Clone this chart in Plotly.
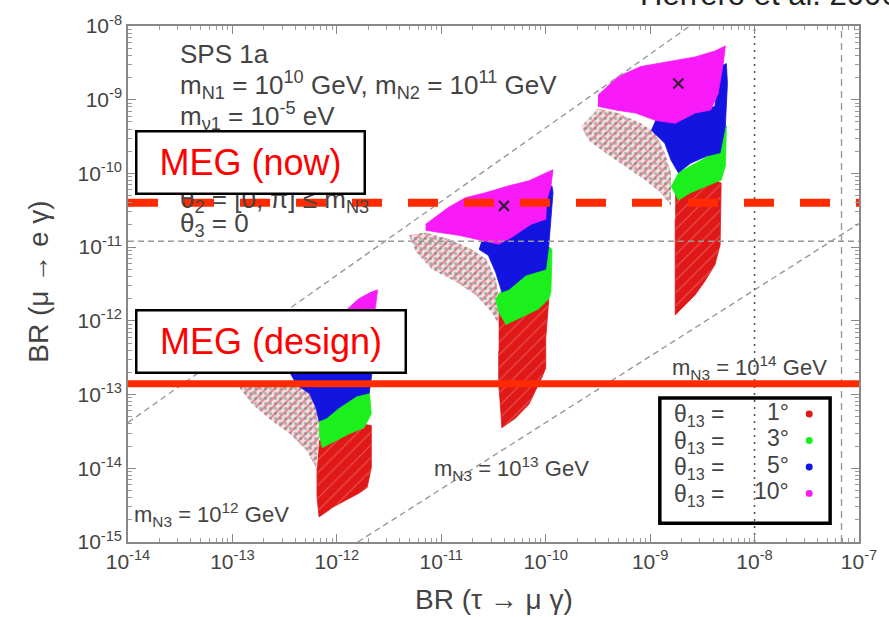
import plotly.graph_objects as go

# ---------------- data (log10 units) ----------------
x_tick_exp = [-14, -13, -12, -11, -10, -9, -8, -7]
y_tick_exp = [-15, -14, -13, -12, -11, -10, -9, -8]

meg_now = 4.0e-11        # MEG (now)
meg_design = 1.4e-13     # MEG (design)
mega_bound = 1.2e-11     # gray dashed horizontal
tau_future = 1.0e-8      # dotted vertical
tau_bound = 6.8e-8       # dashed vertical

ratio_a_lx = [-14.0, -8.62]
ratio_a_ly = [-13.38, -8.0]
ratio_b_lx = [-11.80, -7.0]
ratio_b_ly = [-15.0, -10.68]

# cluster m_N3 = 10^13 GeV
c13_band_lx = [-11.31, -11.24, -11.09, -10.86, -10.67, -10.52, -10.45, -10.45, -10.48, -10.57, -10.71, -10.93, -11.15]
c13_band_ly = [-10.84, -11.07, -11.30, -11.47, -11.65, -11.88, -12.05, -11.65, -11.43, -11.16, -11.03, -10.89, -10.80]
c13_red_lx = [-10.45, -10.00, -9.97, -10.00, -10.00, -10.04, -10.10, -10.16, -10.29, -10.42, -10.43, -10.45, -10.45]
c13_red_ly = [-11.84, -11.65, -11.70, -12.24, -12.64, -12.78, -12.95, -13.13, -13.32, -13.45, -13.22, -12.86, -12.41]
c13_green_lx = [-10.42, -10.19, -10.00, -9.99, -9.94, -9.95, -9.97, -10.07, -10.19, -10.38, -10.45, -10.48]
c13_green_ly = [-11.57, -11.38, -11.24, -10.97, -11.03, -11.61, -11.70, -11.84, -11.92, -12.05, -11.88, -11.70]
c13_blue_lx = [-10.61, -10.33, -10.14, -10.00, -9.99, -9.94, -9.93, -9.97, -10.00, -10.19, -10.35, -10.42, -10.48, -10.55, -10.64]
c13_blue_ly = [-10.89, -10.84, -10.69, -10.60, -10.22, -10.17, -10.26, -10.97, -11.30, -11.38, -11.57, -11.61, -11.34, -11.11, -11.03]
c13_mag_lx = [-11.15, -10.93, -10.77, -10.57, -10.36, -10.16, -10.04, -9.93, -9.95, -9.99, -10.00, -10.14, -10.33, -10.45, -10.61, -10.83, -11.02, -11.15]
c13_mag_ly = [-10.69, -10.46, -10.33, -10.26, -10.17, -10.10, -10.02, -9.95, -10.17, -10.36, -10.62, -10.69, -10.87, -10.96, -10.91, -10.84, -10.80, -10.77]

# cluster m_N3 = 10^14 GeV
c14_band_lx = [-9.66, -9.59, -9.43, -9.24, -9.05, -8.90, -8.80, -8.80, -8.86, -8.95, -9.09, -9.31, -9.50]
c14_band_ly = [-9.36, -9.55, -9.72, -9.90, -10.09, -10.26, -10.44, -9.99, -9.72, -9.45, -9.32, -9.18, -9.12]
c14_red_lx = [-8.76, -8.38, -8.32, -8.33, -8.33, -8.38, -8.48, -8.57, -8.70, -8.76, -8.76, -8.76, -8.76]
c14_red_ly = [-10.26, -10.09, -10.13, -10.62, -10.97, -11.24, -11.47, -11.65, -11.84, -11.92, -11.51, -11.03, -10.62]
c14_green_lx = [-8.73, -8.51, -8.35, -8.32, -8.27, -8.28, -8.32, -8.45, -8.61, -8.73, -8.80]
c14_green_ly = [-9.99, -9.82, -9.68, -9.36, -9.36, -9.90, -10.09, -10.17, -10.26, -10.36, -10.17]
c14_blue_lx = [-8.95, -8.73, -8.57, -8.38, -8.33, -8.27, -8.26, -8.28, -8.33, -8.45, -8.61, -8.73, -8.80, -8.86, -8.99]
c14_blue_ly = [-9.28, -9.29, -9.18, -9.09, -8.55, -8.51, -8.78, -9.36, -9.72, -9.76, -9.86, -9.99, -9.82, -9.59, -9.41]
c14_mag_lx = [-9.50, -9.31, -9.09, -8.83, -8.57, -8.38, -8.28, -8.30, -8.35, -8.42, -8.57, -8.76, -8.95, -9.14, -9.33, -9.50]
c14_mag_ly = [-8.94, -8.69, -8.55, -8.48, -8.42, -8.34, -8.27, -8.51, -8.92, -9.14, -9.18, -9.32, -9.28, -9.18, -9.14, -9.09]

# cluster m_N3 = 10^12 GeV
c12_band_lx = [-12.93, -12.81, -12.62, -12.45, -12.29, -12.20, -12.17, -12.17, -12.20, -12.26, -12.39, -12.74, -12.93]
c12_band_ly = [-12.91, -13.13, -13.36, -13.53, -13.76, -13.99, -13.59, -13.36, -13.18, -12.99, -12.82, -12.82, -12.86]
c12_red_lx = [-12.17, -11.76, -11.67, -11.67, -11.71, -11.79, -11.91, -12.04, -12.17, -12.19, -12.19]
c12_red_ly = [-13.63, -13.40, -13.42, -13.99, -14.26, -14.34, -14.43, -14.53, -14.66, -14.39, -13.99]
c12_green_lx = [-12.17, -11.98, -11.83, -11.69, -11.67, -11.74, -11.88, -12.01, -12.14, -12.17]
c12_green_ly = [-13.36, -13.18, -13.02, -12.95, -13.26, -13.45, -13.53, -13.63, -13.72, -13.53]
c12_blue_lx = [-12.45, -11.98, -11.67, -11.61, -11.69, -11.81, -11.98, -12.10, -12.17, -12.20, -12.26, -12.39]
c12_blue_ly = [-12.71, -12.44, -12.17, -12.15, -12.98, -13.02, -13.18, -13.32, -13.36, -13.18, -12.99, -12.86]
c12_mag_lx = [-11.93, -11.79, -11.67, -11.61, -11.63, -11.69, -11.98, -12.17]
c12_mag_ly = [-11.88, -11.70, -11.61, -11.58, -11.81, -12.15, -12.35, -12.28]

# best-fit markers (x)
star_lx = [-10.40, -8.73]
star_ly = [-10.44, -8.78]

legend_labels = ["1°", "3°", "5°", "10°"]

# ---------------- style ----------------
RED = "#e01818"
GREEN = "#1cf01c"
BLUE = "#1414e0"
MAG = "#f81af8"
MEGRED = "#ff2a00"
TXT = "#444444"
FONT = "Liberation Sans, Arial, sans-serif"


def P(v):
    return [10 ** e for e in v]


fig = go.Figure()

clusters = [
    (c12_band_lx, c12_band_ly, c12_red_lx, c12_red_ly, c12_green_lx, c12_green_ly,
     c12_blue_lx, c12_blue_ly, c12_mag_lx, c12_mag_ly),
    (c13_band_lx, c13_band_ly, c13_red_lx, c13_red_ly, c13_green_lx, c13_green_ly,
     c13_blue_lx, c13_blue_ly, c13_mag_lx, c13_mag_ly),
    (c14_band_lx, c14_band_ly, c14_red_lx, c14_red_ly, c14_green_lx, c14_green_ly,
     c14_blue_lx, c14_blue_ly, c14_mag_lx, c14_mag_ly),
]
for cl in clusters:
    bx, by = P(cl[0]), P(cl[1])
    # sparse arcs of mixed-colour points
    fig.add_trace(go.Scatter(x=bx, y=by, mode="lines", fill="toself",
                             fillcolor="rgba(0,0,0,0)", line=dict(width=0),
                             fillpattern=dict(shape="/", fgcolor="rgba(215,30,50,0.9)",
                                              bgcolor="rgba(235,180,195,0.4)", size=6, solidity=0.4),
                             hoverinfo="skip"))
    fig.add_trace(go.Scatter(x=bx, y=by, mode="lines", fill="toself",
                             fillcolor="rgba(0,0,0,0)", line=dict(width=0),
                             fillpattern=dict(shape=".", fgcolor="rgba(50,140,110,0.8)",
                                              bgcolor="rgba(0,0,0,0)", size=5, solidity=0.35),
                             hoverinfo="skip"))
    # dense core
    fig.add_trace(go.Scatter(x=P(cl[2]), y=P(cl[3]), mode="lines", fill="toself",
                             fillcolor=RED, line=dict(width=0.8, color=RED),
                             fillpattern=dict(shape="/", fgcolor="rgba(255,255,255,0.55)", bgcolor=RED,
                                              size=9, solidity=0.12),
                             hoverinfo="skip"))
    for k, col in [(2, GREEN), (3, BLUE), (4, MAG)]:
        fig.add_trace(go.Scatter(x=P(cl[2 * k]), y=P(cl[2 * k + 1]), mode="lines",
                                 fill="toself", fillcolor=col, line=dict(width=0.8, color=col),
                                 hoverinfo="skip"))

# gray reference lines
gray_dash = dict(color="#999999", width=1.4, dash="6px,4px")
fig.add_trace(go.Scatter(x=P(ratio_a_lx), y=P(ratio_a_ly), mode="lines", line=gray_dash))
fig.add_trace(go.Scatter(x=P(ratio_b_lx), y=P(ratio_b_ly), mode="lines", line=gray_dash))
fig.add_trace(go.Scatter(x=[10 ** x_tick_exp[0], 10 ** x_tick_exp[-1]], y=[mega_bound, mega_bound],
                         mode="lines", line=gray_dash))
fig.add_trace(go.Scatter(x=[tau_future, tau_future], y=[10 ** y_tick_exp[0], 10 ** y_tick_exp[-1]],
                         mode="lines", line=dict(color="#555555", width=1.6, dash="2px,5px")))
fig.add_trace(go.Scatter(x=[tau_bound, tau_bound], y=[10 ** y_tick_exp[0], 10 ** y_tick_exp[-1]],
                         mode="lines", line=dict(color="#999999", width=1.4, dash="7px,5px")))

# best-fit markers
fig.add_trace(go.Scatter(x=P(star_lx), y=P(star_ly), mode="markers",
                         marker=dict(symbol="x-thin", size=10, line=dict(width=2.2, color="#3a1a40"))))

# MEG lines
fig.add_trace(go.Scatter(x=[10 ** x_tick_exp[0], 10 ** x_tick_exp[-1]], y=[meg_now, meg_now],
                         mode="lines", line=dict(color=MEGRED, width=8, dash="30px,26px")))
fig.add_trace(go.Scatter(x=[10 ** x_tick_exp[0], 10 ** x_tick_exp[-1]], y=[meg_design, meg_design],
                         mode="lines", line=dict(color=MEGRED, width=7)))

ticks_x = [f"10<sup>{e}</sup>" for e in x_tick_exp]
ticks_y = [f"10<sup>{e}</sup>" for e in y_tick_exp]

axis_common = dict(type="log", showgrid=False, zeroline=False, ticks="inside", ticklen=8,
                   tickcolor="#888888", tickwidth=1, linecolor="#888888", linewidth=1.5,
                   mirror="allticks", tickfont=dict(size=21, color=TXT, family=FONT),
                   minor=dict(ticks="inside", ticklen=4, tickcolor="#999999", dtick="D1", showgrid=False))

fig.update_layout(
    width=889, height=617,
    margin=dict(l=128, r=27, t=22, b=75),
    paper_bgcolor="white", plot_bgcolor="white",
    showlegend=False,
    xaxis=dict(range=[x_tick_exp[0], x_tick_exp[-1]], tickmode="array",
               tickvals=[10 ** e for e in x_tick_exp], ticktext=ticks_x, **axis_common),
    yaxis=dict(range=[y_tick_exp[0], y_tick_exp[-1]], tickmode="array",
               tickvals=[10 ** e for e in y_tick_exp], ticktext=ticks_y, **axis_common),
)

ann = []
# axis titles
ann.append(dict(text="BR (τ → μ γ)", xref="paper", yref="paper", x=0.5, y=-0.1115,
                xanchor="center", yanchor="middle", showarrow=False,
                font=dict(size=28, color=TXT, family=FONT)))
ann.append(dict(text="BR (μ → e γ)", xref="paper", yref="paper", x=-0.122, y=0.504,
                xanchor="center", yanchor="middle", showarrow=False, textangle=-90,
                font=dict(size=28, color=TXT, family=FONT)))
# header text (cut at top)
ann.append(dict(text="Herrero et al. 2006", xref="paper", yref="paper", x=0.698, y=1.024,
                xanchor="left", yanchor="bottom", showarrow=False,
                font=dict(size=31, color="#222222", family=FONT)))

# parameter block
info = [
    ("SPS 1a", 50),
    ("m<sub>N1</sub> = 10<sup>10</sup> GeV, m<sub>N2</sub> = 10<sup>11</sup> GeV", 81),
    ("m<sub>ν1</sub> = 10<sup>-5</sup> eV", 113),
    ("0 ≤ |θ<sub>1</sub>| ≤ π", 142),
    ("0 ≤ arg θ<sub>1</sub> ≤ π", 170),
    ("θ<sub>2</sub> = [0, π] ≤ m<sub>N3</sub>", 198),
    ("θ<sub>3</sub> = 0", 222),
]
for t, py in info:
    ann.append(dict(text=t, xref="paper", yref="paper", x=(178 - 128) / 734, y=(542 - py) / 520,
                    xanchor="left", yanchor="middle", showarrow=False,
                    font=dict(size=26, color=TXT, family=FONT)))

# mass labels
mass = [("m<sub>N3</sub> = 10<sup>14</sup> GeV", 672, 366),
        ("m<sub>N3</sub> = 10<sup>13</sup> GeV", 433, 468),
        ("m<sub>N3</sub> = 10<sup>12</sup> GeV", 132, 514)]
for t, px, py in mass:
    ann.append(dict(text=t, xref="paper", yref="paper", x=(px - 128) / 734, y=(542 - py) / 520,
                    xanchor="left", yanchor="middle", showarrow=False,
                    font=dict(size=22, color=TXT, family=FONT)))

# MEG boxes
ann.append(dict(text="MEG (now)", xref="paper", yref="paper", x=(251 - 128) / 734, y=(542 - 159.5) / 520,
                xanchor="center", yanchor="middle", showarrow=False, width=226, height=60,
                bgcolor="white", bordercolor="black", borderwidth=2.5, borderpad=0,
                font=dict(size=36, color="#ff0000", family=FONT)))
ann.append(dict(text="MEG (design)", xref="paper", yref="paper", x=(271.5 - 128) / 734, y=(542 - 339.5) / 520,
                xanchor="center", yanchor="middle", showarrow=False, width=267, height=60,
                bgcolor="white", bordercolor="black", borderwidth=2.5, borderpad=0,
                font=dict(size=36, color="#ff0000", family=FONT)))

# legend
shapes = [dict(type="rect", xref="paper", yref="paper",
               x0=(662 - 128) / 734, x1=(833 - 128) / 734, y0=(542 - 523) / 520, y1=(542 - 397) / 520,
               line=dict(color="black", width=3.5), fillcolor="rgba(0,0,0,0)")]
leg_cols = [RED, GREEN, BLUE, MAG]
for i, lab in enumerate(legend_labels):
    py = 415 + 26.7 * i
    yy = (542 - py) / 520
    ann.append(dict(text="θ<sub>13</sub> =", xref="paper", yref="paper", x=(674 - 128) / 734, y=yy,
                    xanchor="left", yanchor="middle", showarrow=False,
                    font=dict(size=23, color=TXT, family=FONT)))
    ann.append(dict(text=lab, xref="paper", yref="paper", x=(794 - 128) / 734, y=yy + 0.008,
                    xanchor="right", yanchor="middle", showarrow=False,
                    font=dict(size=23, color=TXT, family=FONT)))
    cx = (812 - 128) / 734
    shapes.append(dict(type="circle", xref="paper", yref="paper",
                       x0=cx - 3.5 / 734, x1=cx + 3.5 / 734, y0=yy + 0.004 - 3.5 / 520, y1=yy + 0.004 + 3.5 / 520,
                       fillcolor=leg_cols[i], line=dict(width=0)))

fig.update_layout(annotations=ann, shapes=shapes)
fig.write_html("out.html")
